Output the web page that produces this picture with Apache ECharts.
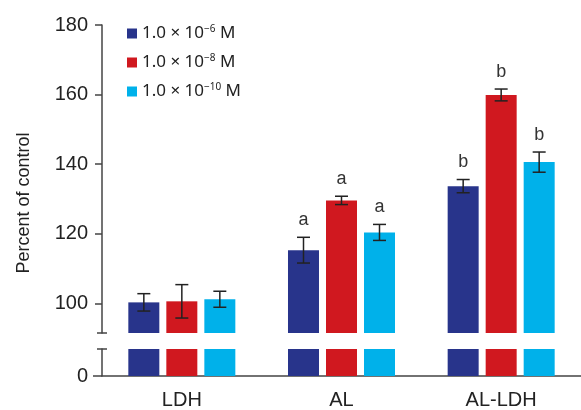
<!DOCTYPE html>
<html>
<head>
<meta charset="utf-8">
<script src="https://cdn.jsdelivr.net/npm/echarts@6/dist/echarts.min.js"></script>
<style>html,body{margin:0;padding:0;background:#fff}#c{width:581px;height:410px}</style>
</head>
<body>
<div id="c"></div>
<script>
// ---- data ----
var categories = ['LDH', 'AL', 'AL-LDH'];
var seriesNames = ['1.0 × 10^−6 M', '1.0 × 10^−8 M', '1.0 × 10^−10 M'];
var values6 = [100.3, 115.3, 133.7];
var values8 = [100.6, 129.6, 159.9];
var values10 = [101.2, 120.4, 140.6];
var err6 = [2.5, 3.7, 1.9];
var err8 = [4.8, 1.2, 1.7];
var err10 = [2.3, 2.3, 2.9];
var letters6 = ['', 'a', 'b'];
var letters8 = ['', 'a', 'b'];
var letters10 = ['', 'a', 'b'];
var upperTicks = [100, 120, 140, 160, 180];
var lowerTicks = [0];

var allValues = [values6, values8, values10];
var allErr = [err6, err8, err10];
var allLetters = [letters6, letters8, letters10];
var colors = ['#28348b', '#d0181f', '#00b1ea'];

var BAR_W = 31, BAR_STEP = 38;
var FONT = 'Liberation Sans, Arial, sans-serif';
var LEGEND_FONT = '"Noto Sans", "Liberation Sans", sans-serif';

var chart = echarts.init(document.getElementById('c'));

var series = [];
for (var s = 0; s < 3; s++) {
  series.push({
    name: seriesNames[s], type: 'bar', xAxisIndex: 0, yAxisIndex: 0,
    data: allValues[s], barWidth: BAR_W, barGap: '22.6%',
    itemStyle: { color: colors[s] }, clip: true, silent: true
  });
  series.push({
    name: seriesNames[s], type: 'bar', xAxisIndex: 1, yAxisIndex: 1,
    data: allValues[s], barWidth: BAR_W, barGap: '22.6%',
    itemStyle: { color: colors[s] }, clip: true, silent: true
  });
}
for (var s2 = 0; s2 < 3; s2++) {
  (function (si) {
    var data = allValues[si].map(function (v, i) {
      return [i, v, allErr[si][i]];
    });
    series.push({
      type: 'custom', xAxisIndex: 0, yAxisIndex: 0, silent: true, z: 5,
      data: data,
      renderItem: function (params, api) {
        var ci = api.value(0), v = api.value(1), e = api.value(2);
        var letter = allLetters[si][params.dataIndex];
        var c = api.coord([ci, v]);
        var x = c[0] + (si - 1) * BAR_STEP;
        var top = api.coord([ci, v + e])[1];
        var bot = api.coord([ci, v - e])[1];
        var hw = 6.5;
        var st = { stroke: '#222', lineWidth: 1.5 };
        var children = [
          { type: 'line', shape: { x1: x, y1: top, x2: x, y2: bot }, style: st },
          { type: 'line', shape: { x1: x - hw, y1: top, x2: x + hw, y2: top }, style: st },
          { type: 'line', shape: { x1: x - hw, y1: bot, x2: x + hw, y2: bot }, style: st }
        ];
        if (letter) {
          children.push({ type: 'text', style: { text: letter, x: x, y: top - 17, align: 'center', verticalAlign: 'middle', fill: '#333', font: '18px ' + FONT } });
        }
        return { type: 'group', children: children };
      }
    });
  })(s2);
}

var axisLineStyle = { color: '#444', width: 1.5 };

chart.setOption({
  animation: false,
  textStyle: { fontFamily: FONT },
  legend: {
    data: seriesNames, orient: 'vertical', left: 122, top: 19,
    itemWidth: 10, itemHeight: 10, itemGap: 11, icon: 'rect',
    formatter: function (n) {
      var parts = n.split('^');
      var rest = parts[1].split(' ');
      return '{m|' + parts[0] + '}{s|' + rest[0] + '}{m| ' + rest[1] + '}';
    },
    textStyle: {
      rich: {
        m: { fontSize: 17, color: '#222', fontFamily: LEGEND_FONT, lineHeight: 18 },
        s: { fontSize: 10, color: '#222', fontFamily: LEGEND_FONT, padding: [0, 0, 9, 0] }
      }
    }
  },
  grid: [
    { left: 102, right: -7, top: 25, height: 308 },
    { left: 102, right: -7, top: 349, height: 30 }
  ],
  xAxis: [
    { type: 'category', gridIndex: 0, data: categories, show: false },
    { type: 'category', gridIndex: 1, data: categories,
      axisLine: { lineStyle: axisLineStyle },
      axisTick: { length: 9, lineStyle: axisLineStyle, alignWithLabel: false },
      axisLabel: { fontSize: 20, color: '#222', margin: 14, fontFamily: FONT } }
  ],
  yAxis: [
    { type: 'value', gridIndex: 0, min: 91.5, max: 180,
      splitLine: { show: false },
      axisLine: { show: true, lineStyle: axisLineStyle },
      axisTick: { show: true, length: 7, lineStyle: axisLineStyle, customValues: upperTicks },
      axisLabel: { fontSize: 20, color: '#222', margin: 14, customValues: upperTicks, fontFamily: FONT } },
    { type: 'value', gridIndex: 1, min: 0, max: 10,
      splitLine: { show: false },
      axisLine: { show: true, lineStyle: axisLineStyle },
      axisTick: { show: true, length: 9, lineStyle: axisLineStyle, customValues: lowerTicks },
      axisLabel: { fontSize: 20, color: '#222', margin: 14, customValues: lowerTicks, fontFamily: FONT } }
  ],
  graphic: [
    { type: 'text', rotation: Math.PI / 2, x: 24, y: 203,
      style: { text: 'Percent of control', font: '18px ' + FONT, fill: '#222', align: 'center', verticalAlign: 'middle' } },
    { type: 'line', shape: { x1: 97, y1: 333, x2: 107, y2: 333 }, style: { stroke: '#444', lineWidth: 1.5 } },
    { type: 'line', shape: { x1: 97, y1: 349, x2: 107, y2: 349 }, style: { stroke: '#444', lineWidth: 1.5 } }
  ],
  series: series
});
</script>
</body>
</html>
